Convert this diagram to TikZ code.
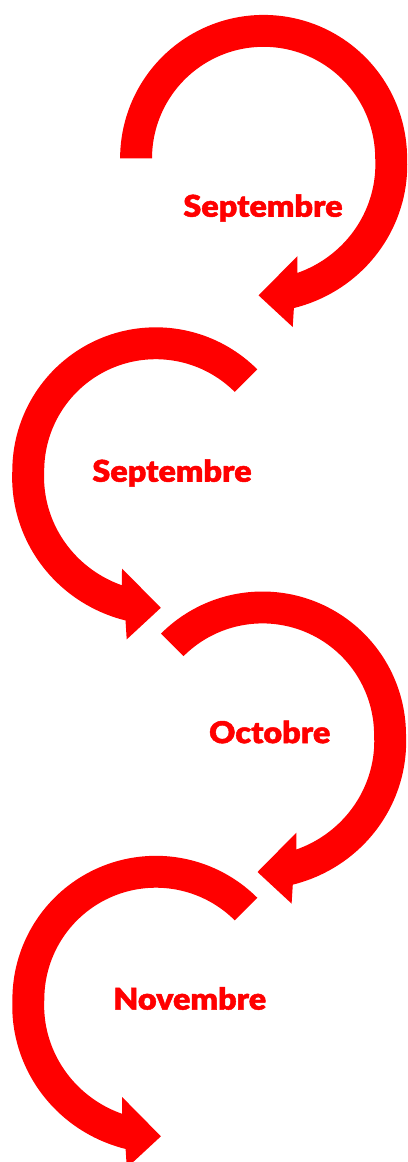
\documentclass[tikz,border=0pt]{standalone}
\usepackage{fontspec}
\newfontfamily\lblfont{Lato}[UprightFont={* Black}, FakeStretch=1.08, FakeBold=1.5]
\definecolor{arrowred}{RGB}{255,0,0}
\tikzset{
  lbl/.style={text=arrowred, font=\lblfont\fontsize{30}{33}\selectfont, inner sep=0pt, anchor=center}
}
\newcommand\circarr[4]{%
\begin{scope}[shift={(#1,#2)}, xscale=#3]
\fill[arrowred] plot[domain=#4:438.56, samples=120]
  ({(143.5+9.2*max(0,\x-360)/78.56)*cos(\x)}, {(143.5+9.2*max(0,\x-360)/78.56)*sin(\x)})
  -- (29.1,168.6) -- (-5,137) -- (33.8,97.7)
  -- plot[domain=433.55:#4, samples=120]
  ({(111.6+7.8*max(0,\x-360)/73.55)*cos(\x)}, {(111.6+7.8*max(0,\x-360)/73.55)*sin(\x)})
  -- cycle;
\end{scope}}
\begin{document}
\begin{tikzpicture}[x=1pt, y=-1pt]
\useasboundingbox (0,0) rectangle (407,1162);
\circarr{263.6}{158.4}{1}{180}
\circarr{155.8}{470.8}{-1}{225}
\circarr{262.5}{735}{1}{225}
\circarr{155.9}{999.3}{-1}{225}
\node[lbl] (t1) at (263,208) {Septembre};
\node[lbl] (t2) at (172,473) {Septembre};
\node[lbl] (t3) at (269.7,732) {Octobre};
\node[lbl] (t4) at (189.7,998.5) {Novembre};
\end{tikzpicture}
\end{document}
